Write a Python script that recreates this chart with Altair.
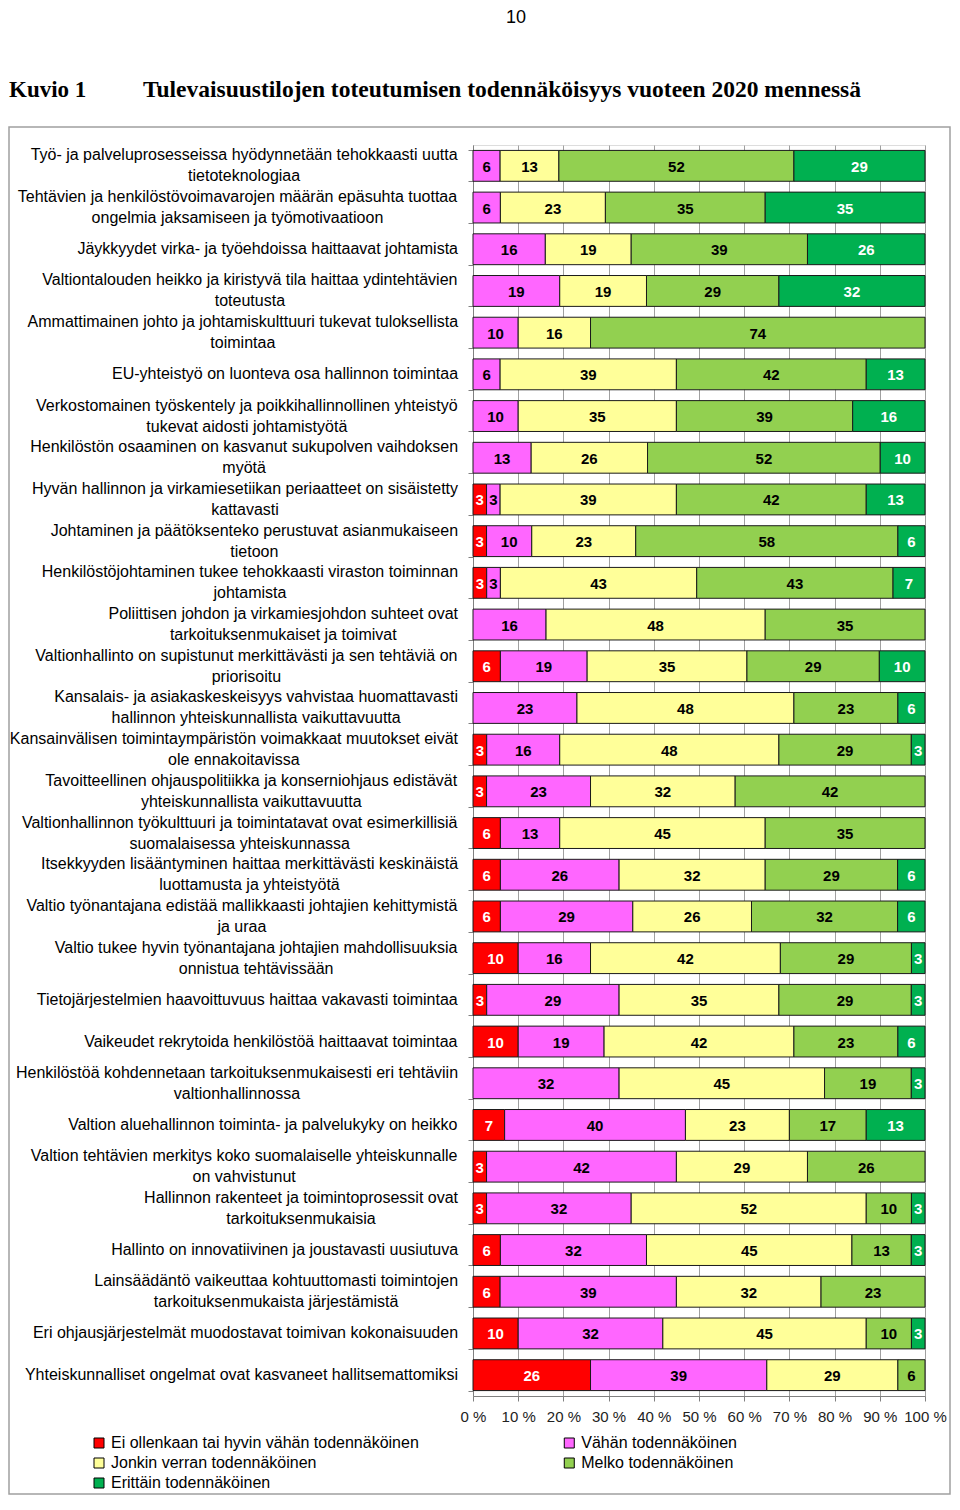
import altair as alt
import pandas as pd

# ---------------- data ----------------
categories = [
    "Ei ollenkaan tai hyvin vähän todennäköinen",
    "Vähän todennäköinen",
    "Jonkin verran todennäköinen",
    "Melko todennäköinen",
    "Erittäin todennäköinen",
]
colors = ["#FF0000", "#FF66FF", "#FFFF99", "#92D050", "#00B050"]

labels = [
    "Työ- ja palveluprosesseissa hyödynnetään tehokkaasti uutta\ntietoteknologiaa",
    "Tehtävien ja henkilöstövoimavarojen määrän epäsuhta tuottaa\nongelmia jaksamiseen ja työmotivaatioon",
    "Jäykkyydet virka- ja työehdoissa haittaavat johtamista",
    "Valtiontalouden heikko ja kiristyvä tila haittaa ydintehtävien\ntoteutusta",
    "Ammattimainen johto ja johtamiskulttuuri tukevat tuloksellista\ntoimintaa",
    "EU-yhteistyö on luonteva osa hallinnon toimintaa",
    "Verkostomainen työskentely ja poikkihallinnollinen yhteistyö\ntukevat aidosti johtamistyötä",
    "Henkilöstön osaaminen on kasvanut sukupolven vaihdoksen\nmyötä",
    "Hyvän hallinnon ja virkamiesetiikan periaatteet on sisäistetty\nkattavasti",
    "Johtaminen ja päätöksenteko perustuvat asianmukaiseen\ntietoon",
    "Henkilöstöjohtaminen tukee tehokkaasti viraston toiminnan\njohtamista",
    "Poliittisen johdon ja virkamiesjohdon suhteet ovat\ntarkoituksenmukaiset ja toimivat",
    "Valtionhallinto on supistunut merkittävästi ja sen tehtäviä on\npriorisoitu",
    "Kansalais- ja asiakaskeskeisyys vahvistaa huomattavasti\nhallinnon yhteiskunnallista vaikuttavuutta",
    "Kansainvälisen toimintaympäristön voimakkaat muutokset eivät\nole ennakoitavissa",
    "Tavoitteellinen ohjauspolitiikka ja konserniohjaus edistävät\nyhteiskunnallista vaikuttavuutta",
    "Valtionhallinnon työkulttuuri ja toimintatavat ovat esimerkillisiä\nsuomalaisessa yhteiskunnassa",
    "Itsekkyyden lisääntyminen haittaa merkittävästi keskinäistä\nluottamusta ja yhteistyötä",
    "Valtio työnantajana edistää mallikkaasti johtajien kehittymistä\nja uraa",
    "Valtio tukee hyvin työnantajana johtajien mahdollisuuksia\nonnistua tehtävissään",
    "Tietojärjestelmien haavoittuvuus haittaa vakavasti toimintaa",
    "Vaikeudet rekrytoida henkilöstöä haittaavat toimintaa",
    "Henkilöstöä kohdennetaan tarkoituksenmukaisesti eri tehtäviin\nvaltionhallinnossa",
    "Valtion aluehallinnon toiminta- ja palvelukyky on heikko",
    "Valtion tehtävien merkitys koko suomalaiselle yhteiskunnalle\non vahvistunut",
    "Hallinnon rakenteet ja toimintoprosessit ovat\ntarkoituksenmukaisia",
    "Hallinto on innovatiivinen ja joustavasti uusiutuva",
    "Lainsäädäntö vaikeuttaa kohtuuttomasti toimintojen\ntarkoituksenmukaista järjestämistä",
    "Eri ohjausjärjestelmät muodostavat toimivan kokonaisuuden",
    "Yhteiskunnalliset ongelmat ovat kasvaneet hallitsemattomiksi",
]

ei_ollenkaan = [0, 0, 0, 0, 0, 0, 0, 0, 3, 3, 3, 0, 6, 0, 3, 3, 6, 6, 6, 10, 3, 10, 0, 7, 3, 3, 6, 6, 10, 26]
vahan = [6, 6, 16, 19, 10, 6, 10, 13, 3, 10, 3, 16, 19, 23, 16, 23, 13, 26, 29, 16, 29, 19, 32, 40, 42, 32, 32, 39, 32, 39]
jonkin = [13, 23, 19, 19, 16, 39, 35, 26, 39, 23, 43, 48, 35, 48, 48, 32, 45, 32, 26, 42, 35, 42, 45, 23, 29, 52, 45, 32, 45, 29]
melko = [52, 35, 39, 29, 74, 42, 39, 52, 42, 58, 43, 35, 29, 23, 29, 42, 35, 29, 32, 29, 29, 23, 19, 17, 26, 10, 13, 23, 10, 6]
erittain = [29, 35, 26, 32, 0, 13, 16, 10, 13, 6, 7, 0, 10, 6, 3, 0, 0, 6, 6, 3, 3, 6, 3, 13, 0, 3, 3, 0, 3, 0]

x_ticks = [0, 0.1, 0.2, 0.3, 0.4, 0.5, 0.6, 0.7, 0.8, 0.9, 1.0]

page_number = "10"
figure_id = "Kuvio 1"
figure_title = "Tulevaisuustilojen toteutumisen todennäköisyys vuoteen 2020 mennessä"

# legend order (Vega fills legend columns top-to-bottom)
legend_order = [0, 2, 4, 1, 3]

# ---------------- layout constants ----------------
PLOT_W = 452
PLOT_H = 1251
FONT = "Liberation Sans"
LABEL_SIZE = 16
LEGEND_SIZE = 16
LABEL_GAP = 15
LINE_H = 21

# Arial / Liberation Sans advance widths (1/1000 em) used to centre wrapped labels
AW = {' ': 278, '-': 333, '.': 278, ',': 278, '%': 889,
      'a': 556, 'b': 556, 'c': 500, 'd': 556, 'e': 556, 'f': 278, 'g': 556, 'h': 556, 'i': 222,
      'j': 222, 'k': 500, 'l': 222, 'm': 833, 'n': 556, 'o': 556, 'p': 556, 'q': 556, 'r': 333,
      's': 500, 't': 278, 'u': 556, 'v': 500, 'w': 722, 'x': 500, 'y': 500, 'z': 500,
      'ä': 556, 'ö': 556, 'å': 556,
      'A': 667, 'B': 667, 'C': 722, 'D': 722, 'E': 667, 'F': 611, 'G': 778, 'H': 722, 'I': 278,
      'J': 500, 'K': 667, 'L': 556, 'M': 833, 'N': 722, 'O': 778, 'P': 667, 'Q': 778, 'R': 722,
      'S': 667, 'T': 611, 'U': 722, 'V': 667, 'W': 944, 'X': 667, 'Y': 667, 'Z': 611}


def text_w(s, size):
    return sum(AW.get(c, 556) for c in s) / 1000.0 * size


series = [ei_ollenkaan, vahan, jonkin, melko, erittain]
rows = []
for i, lab in enumerate(labels):
    for k, ser in enumerate(series):
        rows.append({"label": lab, "cat": categories[k], "order": k, "value": ser[i]})
df = pd.DataFrame(rows)

lab_df = pd.DataFrame({
    "label": labels,
    "nlines": [len(lab.split("\n")) for lab in labels],
    "cx": [-(LABEL_GAP + max(text_w(l, LABEL_SIZE) for l in lab.split("\n")) / 2.0) / PLOT_W
           for lab in labels],
})

xscale = alt.Scale(domain=[0, 1], nice=False, zero=False)
yscale = alt.Scale(domain=labels, paddingInner=0.26, paddingOuter=0.13)

xaxis = alt.Axis(values=x_ticks, labelExpr="round(datum.value*100) + ' %'",
                 labelOverlap=False, labelFlush=False,
                 grid=True, gridColor="#a0a0a0", gridWidth=1,
                 tickSize=5, tickColor="#808080", domainColor="#808080",
                 labelFont=FONT, labelFontSize=15, labelColor="#222222",
                 labelPadding=8, title=None, orient="bottom")
yaxis = alt.Axis(labels=False, ticks=True, tickBand="extent", tickSize=5,
                 tickColor="#808080", domainColor="#808080", grid=False, title=None,
                 orient="left")

leg_dom = [categories[k] for k in legend_order]
leg_rng = [colors[k] for k in legend_order]
legend_entry_w = 10 + 4 + text_w(categories[0], LEGEND_SIZE)
col_pad = 464 - legend_entry_w

base = (
    alt.Chart(df)
    .transform_filter("datum.value > 0")
    .transform_stack(stack="value", groupby=["label"], as_=["x0", "x1"],
                     offset="normalize", sort=[alt.SortField("order", order="ascending")])
    .transform_calculate(mid="(datum.x0 + datum.x1) / 2")
)

bars = base.mark_bar(stroke="#1a1a1a", strokeWidth=1).encode(
    x=alt.X("x0:Q", scale=xscale, axis=xaxis),
    x2="x1:Q",
    y=alt.Y("label:N", scale=yscale, sort=None, axis=yaxis),
    color=alt.Color("cat:N", scale=alt.Scale(domain=leg_dom, range=leg_rng),
                    legend=alt.Legend(orient="none", legendX=-382, legendY=1290, columns=2,
                                      title=None, symbolType="square", symbolSize=100,
                                      symbolStrokeColor="#000000", symbolStrokeWidth=1,
                                      labelFont=FONT, labelFontSize=LEGEND_SIZE,
                                      labelColor="#000000",
                                      labelLimit=600, columnPadding=col_pad, rowPadding=4,
                                      labelOffset=4, padding=0)),
    order=alt.Order("order:Q"),
)

bar_text = base.mark_text(font=FONT, fontSize=15, fontWeight="bold",
                          align="center", baseline="middle", dy=1).encode(
    x=alt.X("mid:Q", scale=xscale, axis=xaxis),
    y=alt.Y("label:N", scale=yscale, sort=None, axis=yaxis),
    text=alt.Text("value:Q"),
    color=alt.condition("datum.order == 0 || datum.order == 4",
                        alt.value("#ffffff"), alt.value("#000000")),
)

lab_base = alt.Chart(lab_df)
row_labels_1 = lab_base.transform_filter("datum.nlines == 1").mark_text(
    font=FONT, fontSize=LABEL_SIZE, align="center", baseline="middle",
    lineBreak="\n", lineHeight=LINE_H, color="#000000").encode(
    x=alt.X("cx:Q", scale=xscale, axis=xaxis),
    y=alt.Y("label:N", scale=yscale, sort=None, axis=yaxis),
    text="label:N",
)
row_labels_2 = lab_base.transform_filter("datum.nlines == 2").mark_text(
    font=FONT, fontSize=LABEL_SIZE, align="center", baseline="middle",
    lineBreak="\n", lineHeight=LINE_H, dy=-LINE_H / 2.0, color="#000000").encode(
    x=alt.X("cx:Q", scale=xscale, axis=xaxis),
    y=alt.Y("label:N", scale=yscale, sort=None, axis=yaxis),
    text="label:N",
)

one = pd.DataFrame({"k": [0]})
frame = alt.Chart(one).mark_rect(fillOpacity=0, stroke="#a0a0a0", strokeWidth=1.5).encode(
    x=alt.value(-464), x2=alt.value(477), y=alt.value(-18), y2=alt.value(1349))

pnum = alt.Chart(one).mark_text(font=FONT, fontSize=18, align="center", baseline="top",
                                color="#000000").encode(
    x=alt.value(43), y=alt.value(-136), text=alt.value(page_number))
fig_id = alt.Chart(one).mark_text(font="Liberation Serif", fontSize=23, fontWeight="bold",
                                  align="left", baseline="middle", color="#000000").encode(
    x=alt.value(-464), y=alt.value(-55), text=alt.value(figure_id))
fig_title = alt.Chart(one).mark_text(font="Liberation Serif", fontSize=23.5, fontWeight="bold",
                                     align="left", baseline="middle", color="#000000").encode(
    x=alt.value(-330), y=alt.value(-55), text=alt.value(figure_title))

chart = (
    alt.layer(bars, bar_text, row_labels_1, row_labels_2, frame, pnum, fig_id, fig_title)
    .properties(width=PLOT_W, height=PLOT_H,
                autosize=alt.AutoSizeParams(type="none"),
                padding={"left": 465, "top": 137, "right": 26, "bottom": 100})
    .configure_view(stroke="transparent")
    .configure(background="white")
)

chart.save("out.html", embed_options={"renderer": "svg", "actions": False})
